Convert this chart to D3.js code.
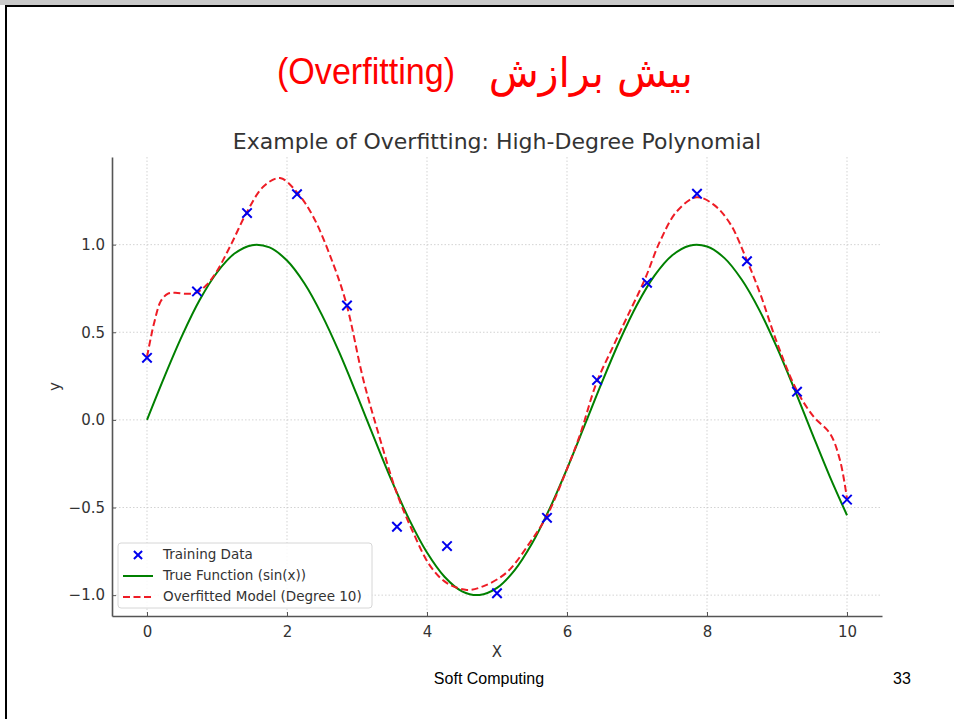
<!DOCTYPE html>
<html>
<head>
<meta charset="utf-8">
<script src="https://cdn.jsdelivr.net/npm/d3@7"></script>
<style>
  body { margin: 0; background: #fff; }
  svg { display: block; }
</style>
</head>
<body>
<div id="slide"></div>
<script>
// Overfitting slide

var xTicks = [0, 2, 4, 6, 8, 10];
var yTicks = [-1.0, -0.5, 0.0, 0.5, 1.0];

// training points (blue x)
var trainX = [0, 0.714, 1.429, 2.143, 2.857, 3.571, 4.286, 5.0, 5.714, 6.429, 7.143, 7.857, 8.571, 9.286, 10];
var trainY = [0.354, 0.733, 1.18, 1.288, 0.653, -0.61, -0.72, -0.989, -0.559, 0.227, 0.782, 1.29, 0.905, 0.161, -0.455];

// true function curve (green)
var trueX = [0, 0.25, 0.5, 0.75, 1, 1.25, 1.5, 1.75, 2, 2.25, 2.5, 2.75, 3, 3.25, 3.5, 3.75, 4, 4.25, 4.5, 4.75,
             5, 5.25, 5.5, 5.75, 6, 6.25, 6.5, 6.75, 7, 7.25, 7.5, 7.75, 8, 8.25, 8.5, 8.75, 9, 9.25, 9.5, 9.75, 10];
var trueY = [0, 0.247, 0.479, 0.682, 0.841, 0.949, 0.997, 0.984, 0.909, 0.778, 0.598, 0.382, 0.141, -0.108, -0.351,
             -0.572, -0.757, -0.895, -0.978, -0.999, -0.959, -0.859, -0.706, -0.508, -0.279, -0.033, 0.215, 0.450,
             0.657, 0.823, 0.938, 0.994, 0.989, 0.923, 0.798, 0.625, 0.412, 0.174, -0.075, -0.319, -0.544];

// overfitted model curve (red dashed)
var fitX = [0, 0.05, 0.1, 0.2, 0.3, 0.4, 0.55, 0.7, 0.85, 1.0, 1.2, 1.42, 1.66, 1.9, 2.14, 2.38, 2.66, 2.85, 3.09,
            3.33, 3.57, 3.8, 4.04, 4.28, 4.57, 4.8, 5.14, 5.47, 5.71, 6.0, 6.19, 6.42, 6.66, 6.85, 7.11, 7.33, 7.57,
            7.85, 8.09, 8.33, 8.57, 8.76, 9.0, 9.28, 9.52, 9.76, 9.9, 10];
var fitY = [0.36, 0.46, 0.55, 0.68, 0.72, 0.725, 0.72, 0.725, 0.77, 0.85, 1.0, 1.18, 1.33, 1.38, 1.30, 1.155, 0.89,
            0.66, 0.23, -0.11, -0.42, -0.64, -0.83, -0.93, -0.97, -0.95, -0.87, -0.70, -0.55, -0.28, -0.08, 0.21,
            0.42, 0.58, 0.80, 1.02, 1.19, 1.27, 1.23, 1.12, 0.91, 0.72, 0.44, 0.17, 0.02, -0.08, -0.23, -0.45];

var legendLabels = ["Training Data", "True Function (sin(x))", "Overfitted Model (Degree 10)"];

var width = 954;
var height = 719;

var svg = d3.select("#slide")
    .append("svg")
    .attr("width", width)
    .attr("height", height);

// slide frame
svg.append("rect").attr("x", 0).attr("y", 0).attr("width", width).attr("height", height).attr("fill", "#fff");
svg.append("rect").attr("x", 0).attr("y", 0).attr("width", width).attr("height", 5).attr("fill", "#c9c9c9");
svg.append("line").attr("x1", 5).attr("x2", width).attr("y1", 6).attr("y2", 6)
    .attr("stroke", "#000").attr("stroke-width", 2);
svg.append("line").attr("x1", 6).attr("x2", 6).attr("y1", 5).attr("y2", height)
    .attr("stroke", "#000").attr("stroke-width", 2);

// slide heading (red)
svg.append("text")
    .attr("x", 277).attr("y", 84)
    .attr("font-family", "Liberation Sans, Arial, sans-serif")
    .attr("font-size", 36)
    .attr("textLength", 178)
    .attr("lengthAdjust", "spacingAndGlyphs")
    .attr("fill", "#ff0000")
    .text("(Overfitting)");
svg.append("text")
    .attr("x", 693).attr("y", 87)
    .attr("text-anchor", "end")
    .attr("font-family", "DejaVu Serif, DejaVu Sans, serif")
    .attr("font-size", 41)
    .attr("fill", "#ff0000")
    .text("بیش برازش");

// plot area
var plotLeft = 112, plotRight = 882, plotTop = 157, plotBottom = 616;

var x = d3.scaleLinear().domain([-0.5, 10.5]).range([plotLeft, plotRight]);
var y = d3.scaleLinear().domain([-1.119, 1.5]).range([plotBottom, plotTop]);

var textColor = "#333";
var font = "DejaVu Sans, Verdana, sans-serif";

// grid
var grid = svg.append("g").attr("class", "grid");
grid.selectAll(".vx").data(xTicks).enter().append("line")
    .attr("x1", function(d) { return x(d); })
    .attr("x2", function(d) { return x(d); })
    .attr("y1", plotTop).attr("y2", plotBottom)
    .attr("stroke", "#c8c8c8").attr("stroke-width", 0.8).attr("stroke-dasharray", "1.5,2");
grid.selectAll(".hy").data(yTicks).enter().append("line")
    .attr("x1", plotLeft).attr("x2", plotRight)
    .attr("y1", function(d) { return y(d); })
    .attr("y2", function(d) { return y(d); })
    .attr("stroke", "#c8c8c8").attr("stroke-width", 0.8).attr("stroke-dasharray", "1.5,2");

// axes
var xAxis = svg.append("g")
    .attr("transform", "translate(0," + plotBottom + ")")
    .call(d3.axisBottom(x).tickValues(xTicks).tickSizeInner(-4).tickSizeOuter(0).tickPadding(10)
        .tickFormat(d3.format("d")));
var yAxis = svg.append("g")
    .attr("transform", "translate(" + plotLeft + ",0)")
    .call(d3.axisLeft(y).tickValues(yTicks).tickSizeInner(-4).tickSizeOuter(0).tickPadding(7)
        .tickFormat(d3.format(".1f")));

[xAxis, yAxis].forEach(function(ax) {
    ax.select(".domain").attr("stroke", "#555").attr("stroke-width", 1.6);
    ax.selectAll(".tick line").attr("stroke", "#555").attr("stroke-width", 1);
    ax.selectAll(".tick text").attr("fill", textColor).attr("font-family", font).attr("font-size", 15);
});

// axis labels and title
svg.append("text")
    .attr("x", (plotLeft + plotRight) / 2).attr("y", 657)
    .attr("text-anchor", "middle")
    .attr("font-family", font).attr("font-size", 15).attr("fill", textColor)
    .text("X");
svg.append("text")
    .attr("transform", "translate(60," + ((plotTop + plotBottom) / 2) + ")rotate(-90)")
    .attr("text-anchor", "middle")
    .attr("font-family", font).attr("font-size", 15).attr("fill", textColor)
    .text("y");
svg.append("text")
    .attr("x", 497).attr("y", 149)
    .attr("text-anchor", "middle")
    .attr("font-family", font).attr("font-size", 22).attr("fill", textColor)
    .text("Example of Overfitting: High-Degree Polynomial");

// curves
var trueData = trueX.map(function(d, i) { return [d, trueY[i]]; });
var fitData = fitX.map(function(d, i) { return [d, fitY[i]]; });

var line = d3.line()
    .x(function(d) { return x(d[0]); })
    .y(function(d) { return y(d[1]); })
    .curve(d3.curveCatmullRom.alpha(0.5));

svg.append("path")
    .datum(trueData)
    .attr("d", line)
    .attr("fill", "none")
    .attr("stroke", "#008000")
    .attr("stroke-width", 2);

svg.append("path")
    .datum(fitData)
    .attr("d", line)
    .attr("fill", "none")
    .attr("stroke", "#ee1c25")
    .attr("stroke-width", 2)
    .attr("stroke-dasharray", "7,3.5");

// scatter x markers
var cross = d3.symbol().type(d3.symbolX).size(60);
svg.selectAll(".pt")
    .data(trainX)
    .enter().append("path")
    .attr("class", "pt")
    .attr("d", cross)
    .attr("transform", function(d, i) { return "translate(" + x(d) + "," + y(trainY[i]) + ")"; })
    .attr("fill", "none")
    .attr("stroke", "#0000ee")
    .attr("stroke-width", 2);

// legend
var legend = svg.append("g").attr("transform", "translate(118,543)");
legend.append("rect")
    .attr("width", 254).attr("height", 65)
    .attr("rx", 3)
    .attr("fill", "#fff").attr("fill-opacity", 0.85)
    .attr("stroke", "#d6d6d6").attr("stroke-width", 1);

legend.append("path")
    .attr("d", d3.symbol().type(d3.symbolX).size(45))
    .attr("transform", "translate(20,12)")
    .attr("fill", "none").attr("stroke", "#0000ee").attr("stroke-width", 2);
legend.append("line")
    .attr("x1", 5).attr("x2", 35).attr("y1", 33).attr("y2", 33)
    .attr("stroke", "#008000").attr("stroke-width", 2);
legend.append("line")
    .attr("x1", 5).attr("x2", 35).attr("y1", 54).attr("y2", 54)
    .attr("stroke", "#ee1c25").attr("stroke-width", 2).attr("stroke-dasharray", "7,3.5");

legend.selectAll(".lab")
    .data(legendLabels)
    .enter().append("text")
    .attr("x", 45)
    .attr("y", function(d, i) { return 16 + i * 21; })
    .attr("font-family", font).attr("font-size", 13.5).attr("fill", textColor)
    .text(function(d) { return d; });

// footer
svg.append("text")
    .attr("x", 489).attr("y", 684)
    .attr("text-anchor", "middle")
    .attr("font-family", "Liberation Sans, Arial, sans-serif")
    .attr("font-size", 16).attr("fill", "#000")
    .text("Soft Computing");
svg.append("text")
    .attr("x", 902).attr("y", 684)
    .attr("text-anchor", "middle")
    .attr("font-family", "Liberation Sans, Arial, sans-serif")
    .attr("font-size", 16).attr("fill", "#000")
    .text("33");
</script>
</body>
</html>
